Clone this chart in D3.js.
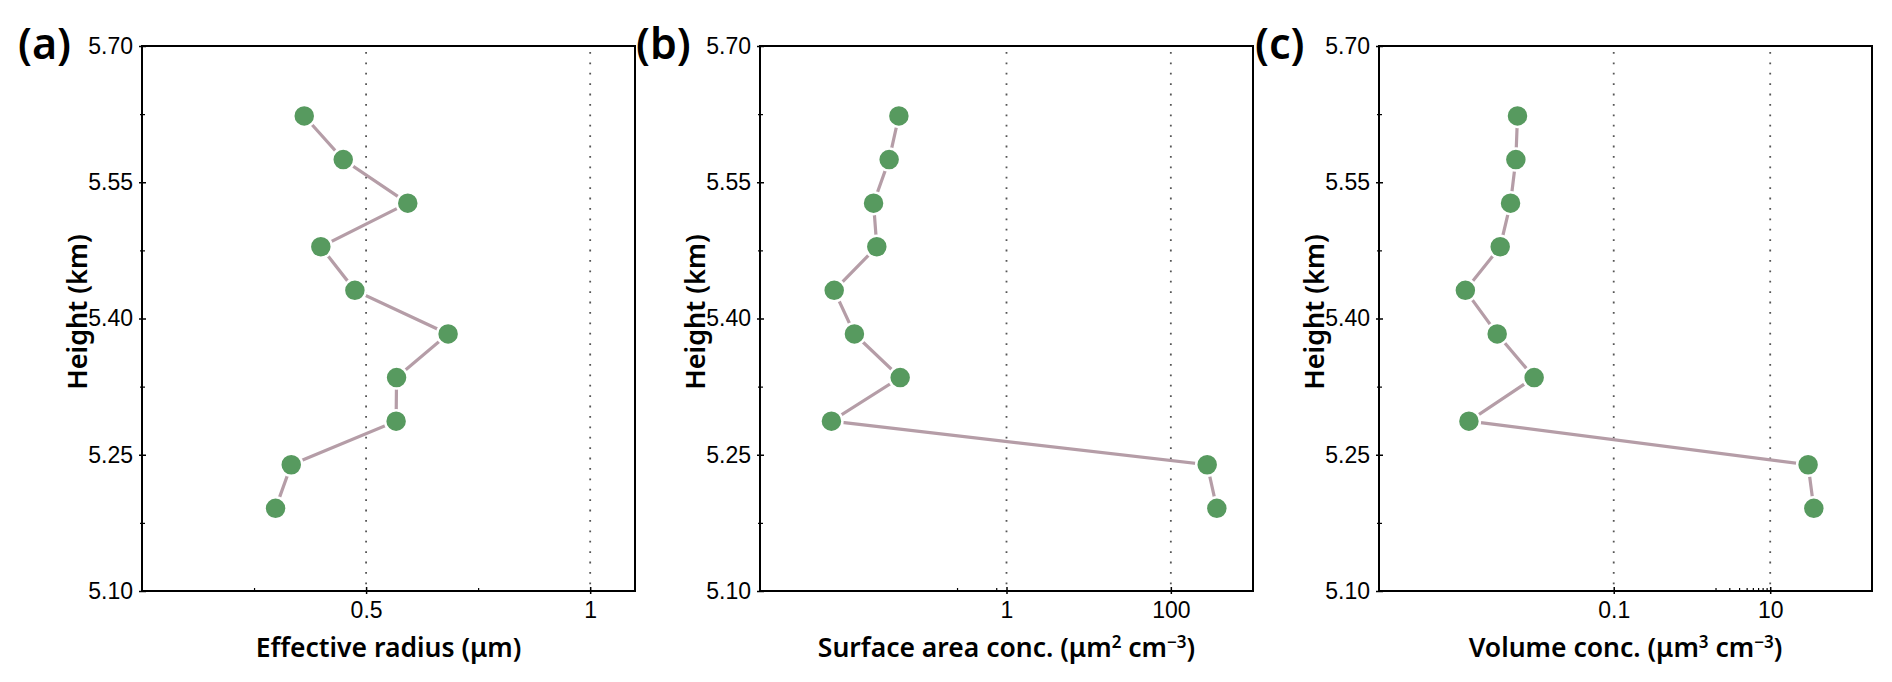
<!DOCTYPE html>
<html>
<head>
<meta charset="utf-8">
<script src="https://cdn.jsdelivr.net/npm/d3@7"></script>
<style>
  html, body { margin: 0; padding: 0; background: #fff; }
  svg { display: block; }
</style>
</head>
<body>
<div id="chart"></div>
<script>
// ============================================================
// Data
// ============================================================

const heights     = [5.623, 5.575, 5.527, 5.479, 5.431, 5.383, 5.335, 5.287, 5.239, 5.191];
const effRadius   = [0.362, 0.449, 0.593, 0.399, 0.475, 0.683, 0.568, 0.567, 0.333, 0.298];
const surfaceConc = [0.049, 0.0373, 0.0241, 0.0264, 0.0080, 0.0141, 0.0508, 0.0074, 277, 363];
const volumeConc  = [0.00589, 0.00561, 0.00480, 0.00354, 0.00127, 0.00324, 0.00962, 0.00141, 30.5, 36.1];

const yMajorTicks = [5.10, 5.25, 5.40, 5.55, 5.70];
const yMinorTicks = [5.175, 5.325, 5.475, 5.625];

const panelLabels = ["(a)", "(b)", "(c)"];

// ============================================================
// Styles
// ============================================================

const COLORS = {
  point: "#579a5f",
  line:  "#b59da7",
  guide: "#555",
  axis:  "#000",
};

const TICK_FONT  = "'Liberation Sans', Arial, sans-serif";
const TITLE_FONT = "'Noto Sans', 'Liberation Sans', sans-serif";

const W = 1892, H = 682;
const TOP = 46, BOTTOM = 591, PW = 493;

const svg = d3.select("#chart").append("svg")
  .attr("width", W)
  .attr("height", H);

const y = d3.scaleLinear().domain([5.10, 5.70]).range([BOTTOM, TOP]);

// ============================================================
// Panel definitions
// ============================================================

const panels = [
  {
    left: 142,
    x: d3.scaleLinear().domain([0, 1.1]).range([0, PW]),
    values: effRadius,
    ticks: [0.5, 1],
    minor: [0.25, 0.75],
    title: [{ t: "Effective radius (\u03bcm)" }],
  },
  {
    left: 760,
    x: d3.scaleLog().domain([1e-3, 1e3]).range([0, PW]),
    values: surfaceConc,
    ticks: [1, 100],
    minor: [0.25, 0.75],
    title: [{ t: "Surface area conc. (\u03bcm" }, { t: "2", sup: true }, { t: " cm" }, { t: "\u22123", sup: true }, { t: ")" }],
  },
  {
    left: 1379,
    x: d3.scaleLog().domain([1e-4, 200]).range([0, PW]),
    values: volumeConc,
    ticks: [0.1, 10],
    minor: [2, 3, 4, 5, 6, 7, 8, 9],
    title: [{ t: "Volume conc. (\u03bcm" }, { t: "3", sup: true }, { t: " cm" }, { t: "\u22123", sup: true }, { t: ")" }],
  },
];

panels.forEach((p, i) => drawPanel(p, i));

// ============================================================
// Draw one panel
// ============================================================

function drawPanel(p, i) {
  const g = svg.append("g").attr("transform", `translate(${p.left},0)`);
  const x = p.x;

  // dotted guide lines at the labelled ticks
  g.selectAll("line.guide")
    .data(p.ticks)
    .join("line")
    .attr("class", "guide")
    .attr("x1", d => x(d)).attr("x2", d => x(d))
    .attr("y1", TOP + 6).attr("y2", BOTTOM)
    .attr("stroke", COLORS.guide)
    .attr("stroke-width", 1.8)
    .attr("stroke-dasharray", "1.8 8.6");

  // connecting line
  const pts = heights.map((h, k) => ({ h, v: p.values[k] }));
  const line = d3.line().x(d => x(d.v)).y(d => y(d.h));
  g.append("path")
    .datum(pts)
    .attr("d", line)
    .attr("fill", "none")
    .attr("stroke", COLORS.line)
    .attr("stroke-width", 3.2);

  // markers (white halo gives the gap where line meets symbol)
  g.selectAll("circle")
    .data(pts)
    .join("circle")
    .attr("cx", d => x(d.v))
    .attr("cy", d => y(d.h))
    .attr("r", 11)
    .attr("fill", COLORS.point)
    .attr("stroke", "#fff")
    .attr("stroke-width", 2.5);

  // frame
  g.append("rect")
    .attr("x", 0).attr("y", TOP)
    .attr("width", PW).attr("height", BOTTOM - TOP)
    .attr("fill", "none")
    .attr("stroke", COLORS.axis)
    .attr("stroke-width", 2);

  // y axis
  g.append("g")
    .call(d3.axisLeft(y).tickValues(yMajorTicks).tickFormat(d3.format(".2f")).tickSize(4).tickPadding(5))
    .call(a => a.select(".domain").remove())
    .call(a => a.selectAll(".tick line").attr("x1", -3).attr("x2", 4).attr("stroke-width", 1.5))
    .call(a => a.selectAll(".tick text")
      .attr("font-family", TICK_FONT).attr("font-size", 23).attr("fill", "#000"));

  g.append("g")
    .call(d3.axisLeft(y).tickValues(yMinorTicks).tickFormat("").tickSize(3))
    .call(a => a.select(".domain").remove())
    .call(a => a.selectAll(".tick line").attr("x1", -2).attr("x2", 3).attr("stroke-width", 1.2));

  // x axis
  g.append("g")
    .attr("transform", `translate(0,${BOTTOM})`)
    .call(d3.axisBottom(x).tickValues(p.ticks).tickFormat(d => String(d)).tickSize(4))
    .call(a => a.select(".domain").remove())
    .call(a => a.selectAll(".tick line").attr("y1", -4).attr("y2", 3).attr("stroke-width", 1.5))
    .call(a => a.selectAll(".tick text")
      .attr("y", 27).attr("dy", null)
      .attr("font-family", TICK_FONT).attr("font-size", 23).attr("fill", "#000"));

  g.append("g")
    .attr("transform", `translate(0,${BOTTOM})`)
    .call(d3.axisBottom(x).tickValues(p.minor).tickFormat("").tickSize(3))
    .call(a => a.select(".domain").remove())
    .call(a => a.selectAll(".tick line").attr("y1", -3).attr("y2", 0).attr("stroke-width", 1.2));

  // x title
  const xt = g.append("text")
    .attr("x", PW / 2)
    .attr("y", 657)
    .attr("text-anchor", "middle")
    .attr("font-family", TITLE_FONT)
    .attr("font-size", 26.5)
    .attr("font-weight", 600)
    .attr("fill", "#000");
  p.title.forEach(part => {
    const ts = xt.append("tspan").text(part.t);
    if (part.sup) ts.attr("font-size", 17).attr("baseline-shift", "55%");
  });

  // y title
  g.append("text")
    .attr("transform", `translate(-66,312) rotate(-90)`)
    .attr("text-anchor", "middle")
    .attr("dominant-baseline", "central")
    .attr("font-family", TITLE_FONT)
    .attr("font-size", 27)
    .attr("font-weight", 600)
    .attr("fill", "#000")
    .text("Height (km)");

  // panel label
  g.append("text")
    .attr("x", -124)
    .attr("y", 59)
    .attr("font-family", TITLE_FONT)
    .attr("font-size", 43)
    .attr("font-weight", 600)
    .attr("fill", "#000")
    .text(panelLabels[i]);
}
</script>
</body>
</html>
